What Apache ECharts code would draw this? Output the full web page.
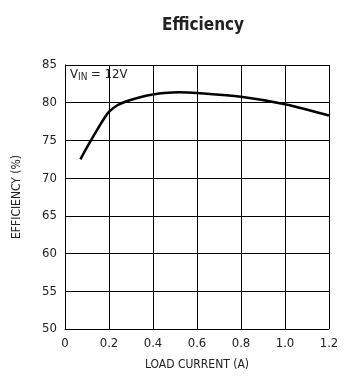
<!DOCTYPE html>
<html>
<head>
<meta charset="utf-8">
<title>Efficiency</title>
<script src="https://cdn.jsdelivr.net/npm/echarts@6/dist/echarts.min.js"></script>
<style>
html, body { margin: 0; padding: 0; background: #fff; }
#chart { width: 354px; height: 377px; }
</style>
</head>
<body>
<div id="chart"></div>
<script>
// load current (A) and efficiency (%)
var loadCurrent = [0.07, 0.11, 0.15, 0.18, 0.2, 0.24, 0.29, 0.35, 0.4, 0.45, 0.52, 0.6, 0.8, 1.0, 1.2];
var efficiency = [72.5, 74.6, 76.6, 78.0, 78.8, 79.7, 80.3, 80.8, 81.1, 81.3, 81.4, 81.3, 80.8, 79.8, 78.3];
var xTicks = [0, 0.2, 0.4, 0.6, 0.8, 1.0, 1.2];

var font = '"DejaVu Sans Condensed", "Liberation Sans", sans-serif';

var chart = echarts.init(document.getElementById('chart'));
var points = loadCurrent.map(function (x, i) { return [x, efficiency[i]]; });

chart.setOption({
  animation: false,
  title: {
    text: 'Efficiency',
    left: 198,
    top: 12,
    textAlign: 'center',
    textStyle: { fontFamily: font, fontSize: 17, fontWeight: 'bold', color: '#222' }
  },
  grid: { left: 65, top: 65, width: 264, height: 264 },
  xAxis: {
    type: 'value',
    min: 0, max: 1.2, interval: 0.2,
    name: 'LOAD CURRENT (A)',
    nameLocation: 'middle',
    nameGap: 30,
    nameTextStyle: { fontFamily: font, fontSize: 12, color: '#222' },
    axisLine: { lineStyle: { color: '#000', width: 1 } },
    axisTick: { show: false },
    splitLine: { lineStyle: { color: '#000', width: 1 } },
    axisLabel: {
      fontFamily: font, fontSize: 13, color: '#222', margin: 8,
      formatter: function (v) {
        var t = xTicks.find(function (k) { return Math.abs(k - v) < 1e-6; });
        if (t === 0) return '0';
        return t === undefined ? '' : t.toFixed(1);
      }
    }
  },
  yAxis: {
    type: 'value',
    min: 50, max: 85, interval: 5,
    name: 'EFFICIENCY (%)',
    nameLocation: 'middle',
    nameGap: 42,
    nameTextStyle: { fontFamily: font, fontSize: 12, color: '#222' },
    axisLine: { show: true, lineStyle: { color: '#000', width: 1 } },
    axisTick: { show: false },
    splitLine: { lineStyle: { color: '#000', width: 1 } },
    axisLabel: { fontFamily: font, fontSize: 13, color: '#222', margin: 8 }
  },
  graphic: [{
    type: 'text',
    left: 70,
    top: 68,
    style: {
      text: '{a|V}{b|IN}{a| = 12V}',
      rich: {
        a: { fontFamily: font, fontSize: 13, fill: '#222' },
        b: { fontFamily: font, fontSize: 10, fill: '#222', padding: [6, 0, 0, 0] }
      }
    }
  }],
  series: [{
    type: 'line',
    data: points,
    smooth: 0.3,
    showSymbol: false,
    lineStyle: { color: '#000', width: 2.5 }
  }]
});
</script>
</body>
</html>
